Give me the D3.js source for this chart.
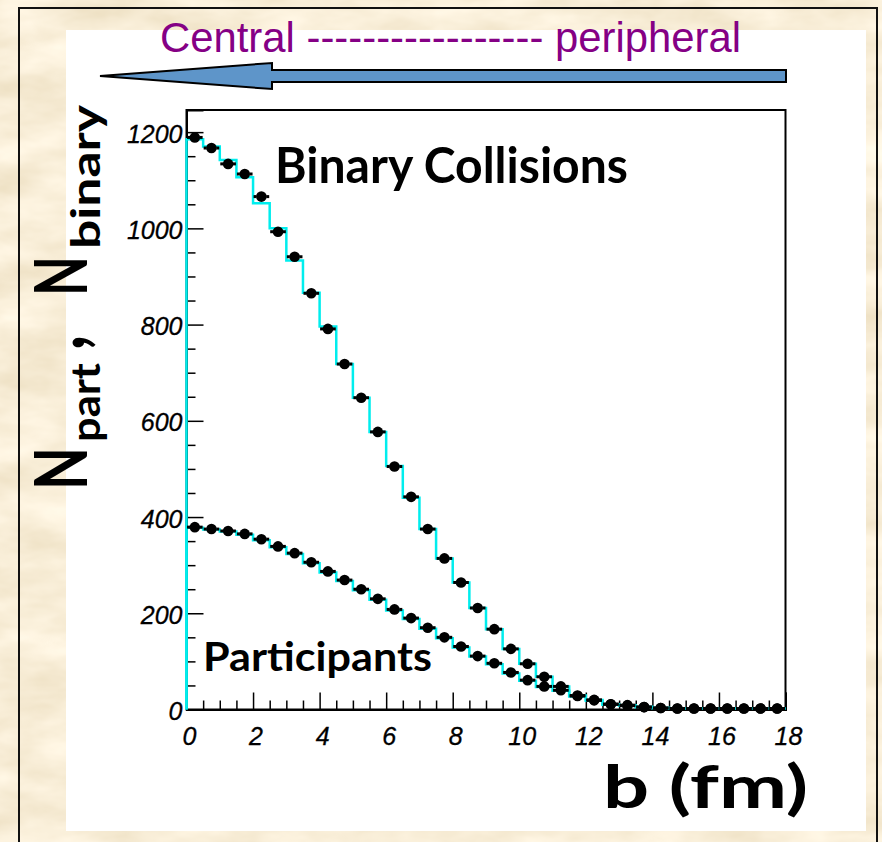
<!DOCTYPE html>
<html>
<head>
<meta charset="utf-8">
<script src="https://cdn.jsdelivr.net/npm/d3@7"></script>
<style>
  html, body { margin: 0; padding: 0; background: #ead3a4; }
  svg { display: block; }
</style>
</head>
<body>
<svg id="chart" width="882" height="842"></svg>
<script>
// ---- data (impact parameter bins of 0.5 fm, centers 0.25 ... 17.75) ----
const binCenters = d3.range(36).map(i => 0.25 + 0.5 * i);
const binaryPoints = [1189, 1167, 1134, 1113, 1066, 993, 941, 865, 791, 718, 648, 577,
  505, 442, 375, 314, 264, 211, 167, 126, 95, 68, 48, 29, 20, 11, 9, 5, 3, 2, 2, 2, 2, 2, 2, 2];
const binaryHist = [1185, 1170, 1142, 1106, 1052, 1000, 933, 866, 796, 718, 648, 577,
  506, 440, 375, 314, 264, 211, 167, 126, 95, 68, 48, 29, 20, 11, 9, 5, 3, 2, 2, 2, 2, 2, 2, 2];
const partPoints = [379, 375, 371, 365, 354, 339, 325, 306, 287, 269, 250, 230,
  208, 190, 170, 150, 131, 111, 96, 77, 61, 48, 40, 28, 19, 11, 8, 5, 3, 2, 2, 2, 2, 2, 2, 2];
const partHist = [378, 374, 370, 363, 352, 337, 323, 304, 285, 267, 248, 228,
  206, 188, 168, 148, 129, 110, 94, 75, 60, 47, 39, 27, 18, 10, 8, 5, 3, 2, 2, 2, 2, 2, 2, 2];
const xMajorTicks = [0, 2, 4, 6, 8, 10, 12, 14, 16, 18];
const yMajorTicks = [0, 200, 400, 600, 800, 1000, 1200];
const binWidth = 0.5;

const svg = d3.select("#chart");

// ---- parchment background ----
const defs = svg.append("defs");
const f = defs.append("filter").attr("id", "paper").attr("x", 0).attr("y", 0).attr("width", 1).attr("height", 1);
f.append("feTurbulence").attr("type", "fractalNoise").attr("baseFrequency", "0.013 0.03")
  .attr("numOctaves", 4).attr("seed", 11).attr("result", "n");
f.append("feColorMatrix").attr("in", "n").attr("type", "matrix")
  .attr("values", "0.24 0 0 0 0.82  0.28 0 0 0 0.71  0.36 0 0 0 0.50  0 0 0 0 1");
svg.append("rect").attr("x", 0).attr("y", 0).attr("width", 882).attr("height", 842)
  .attr("filter", "url(#paper)");

// outer black border
svg.append("rect").attr("x", 19).attr("y", 8).attr("width", 858).attr("height", 860)
  .attr("fill", "none").attr("stroke", "#111").attr("stroke-width", 2);

// white panel
svg.append("rect").attr("x", 66).attr("y", 30).attr("width", 800).attr("height", 801)
  .attr("fill", "#ffffff");

// ---- title + arrow ----
svg.append("text").attr("x", 160).attr("y", 51.5)
  .attr("font-family", "Liberation Sans, Arial, sans-serif").attr("font-size", 42)
  .attr("fill", "#850085").attr("textLength", 581).attr("lengthAdjust", "spacingAndGlyphs")
  .text("Central ----------------- peripheral");

const arrowPts = [[100, 76], [272, 63], [272, 70], [786, 70], [786, 82], [272, 82], [272, 89]];
svg.append("polygon").attr("points", arrowPts.map(p => p.join(",")).join(" "))
  .attr("fill", "#5e95c9").attr("stroke", "#000").attr("stroke-width", 2)
  .attr("stroke-linejoin", "miter");

// ---- scales ----
const x = d3.scaleLinear().domain([0, 18]).range([186.5, 785.5]);
const y = d3.scaleLinear().domain([0, 1246]).range([709.5, 110]);

// frame
svg.append("rect").attr("x", x(0)).attr("y", y(1246)).attr("width", x(18) - x(0)).attr("height", y(0) - y(1246))
  .attr("fill", "none").attr("stroke", "#000").attr("stroke-width", 2);

// ---- axes ----
const tickFont = "Liberation Sans, Arial, sans-serif";
const xMinor = d3.range(0, 18.01, 0.5).filter(v => v % 2 !== 0);
const yMinor = d3.range(0, 1246, 50).filter(v => v % 200 !== 0);

const gx = svg.append("g").attr("transform", `translate(0,${y(0)})`)
  .call(d3.axisBottom(x).tickValues(xMajorTicks).tickSize(-17).tickPadding(18).tickFormat(d3.format("d")));
svg.append("g").attr("transform", `translate(0,${y(0)})`)
  .call(d3.axisBottom(x).tickValues(xMinor).tickSize(-9).tickFormat(""))
  .call(g => g.select(".domain").remove());
const gy = svg.append("g").attr("transform", `translate(${x(0)},0)`)
  .call(d3.axisLeft(y).tickValues(yMajorTicks).tickSize(-17).tickPadding(4).tickFormat(d3.format("d")));
svg.append("g").attr("transform", `translate(${x(0)},0)`)
  .call(d3.axisLeft(y).tickValues(yMinor).tickSize(-9).tickFormat(""))
  .call(g => g.select(".domain").remove());

svg.selectAll(".domain").attr("stroke", "#000").attr("stroke-width", 2);
svg.selectAll(".tick line").attr("stroke", "#000").attr("stroke-width", 1.5);
svg.selectAll(".tick text").attr("font-family", tickFont).attr("font-style", "italic")
  .attr("font-size", 25).attr("fill", "#000").attr("stroke", "#000").attr("stroke-width", 0.3);
gx.selectAll(".tick text").attr("dx", "0.1em");
gy.selectAll(".tick text").attr("dy", "0.4em");

// ---- histograms (cyan steps) ----
function histData(vals) {
  const d = [{ b: 0, v: 0 }];
  vals.forEach((v, i) => d.push({ b: i * binWidth, v }));
  d.push({ b: 18, v: vals[vals.length - 1] });
  return d;
}
const step = d3.line().x(d => x(d.b)).y(d => y(d.v)).curve(d3.curveStepAfter);
[partHist, binaryHist].forEach(h => {
  svg.append("path").datum(histData(h)).attr("d", step)
    .attr("fill", "none").attr("stroke", "#00eeee").attr("stroke-width", 2.5);
});

// ---- points with horizontal error-bar ends ----
function drawPoints(vals) {
  const g = svg.append("g");
  const data = vals.map((v, i) => ({ b: binCenters[i], v }));
  g.selectAll("rect.l").data(data).join("rect")
    .attr("x", d => x(d.b - binWidth / 2) + 0.5).attr("y", d => y(d.v) - 1.5)
    .attr("width", 3).attr("height", 3).attr("fill", "#000");
  g.selectAll("rect.r").data(data).join("rect")
    .attr("x", d => x(d.b + binWidth / 2) - 3.5).attr("y", d => y(d.v) - 1.5)
    .attr("width", 3).attr("height", 3).attr("fill", "#000");
  g.selectAll("circle").data(data).join("circle")
    .attr("cx", d => x(d.b)).attr("cy", d => y(d.v)).attr("r", 5.3).attr("fill", "#000");
}
drawPoints(partPoints);
drawPoints(binaryPoints);

// ---- labels ----
const labFont = "Lato, 'Open Sans', sans-serif";
svg.append("text").attr("x", 275).attr("y", 183).attr("font-family", labFont)
  .attr("font-weight", "bold").attr("font-size", 50).attr("fill", "#000")
  .attr("textLength", 353).attr("lengthAdjust", "spacingAndGlyphs").text("Binary Collisions");
svg.append("text").attr("x", 203).attr("y", 671).attr("font-family", labFont)
  .attr("font-weight", "bold").attr("font-size", 40).attr("fill", "#000")
  .attr("textLength", 229).attr("lengthAdjust", "spacingAndGlyphs").text("Participants");
svg.append("text").attr("x", 603).attr("y", 808).attr("font-family", labFont)
  .attr("font-weight", "bold").attr("font-size", 60).attr("fill", "#000")
  .attr("textLength", 205).attr("lengthAdjust", "spacingAndGlyphs").text("b (fm)");

// y-axis title: N_part, N_binary (rotated)
const yt = svg.append("g").attr("transform", "translate(87,0) rotate(-90)")
  .attr("font-family", labFont).attr("font-weight", "bold").attr("fill", "#000");
const pieces = [
  { t: "N", px: 490, len: 43, size: 72, dy: 0 },
  { t: "part", px: 442, len: 79, size: 40, dy: 13 },
  { t: ",", px: 350, len: 15, size: 80, dy: -3 },
  { t: "N", px: 296, len: 40, size: 72, dy: 0 },
  { t: "binary", px: 249, len: 144, size: 40, dy: 13 }
];
pieces.forEach(p => {
  yt.append("text").attr("x", -p.px).attr("y", p.dy).attr("font-size", p.size)
    .attr("textLength", p.len).attr("lengthAdjust", "spacingAndGlyphs").text(p.t);
});
</script>
</body>
</html>
